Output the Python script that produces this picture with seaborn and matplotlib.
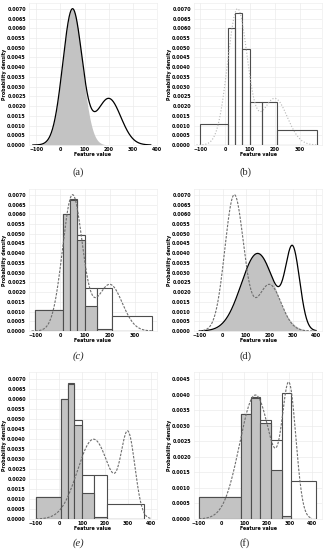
import numpy as np
import pandas as pd
import matplotlib
matplotlib.use('Agg')
import matplotlib.pyplot as plt
from matplotlib.ticker import MultipleLocator, FormatStrFormatter
import seaborn as sns

# Gaussian mixtures (a) and (d)
mix_a_means = [50, 200]
mix_a_sds = [40, 50]
mix_a_weights = [0.7, 0.3]

mix_d_means = [150, 300]
mix_d_sds = [70, 30]
mix_d_weights = [0.7, 0.3]

# histogram used in (b), (c), (e)
bins_b = [-100, 10, 40, 67, 100, 150, 210, 370]
heights_b = [0.0011, 0.0060, 0.0068, 0.00495, 0.0022, 0.0022, 0.00075]
heights_c = [0.0011, 0.0060, 0.00675, 0.0047, 0.0013, 0.00008, 0.0]

# histogram used in (f)
bins_f = [-100, 85, 130, 172, 220, 268, 306, 418]
heights_f_outline = [0.0007, 0.00337, 0.00393, 0.00318, 0.00253, 0.00405, 0.00122]
heights_f_filled = [0.0007, 0.00337, 0.0039, 0.0031, 0.00159, 0.00011, 0.0]

panel_labels = ['(a)', '(b)', '(c)', '(d)', '(e)', '(f)']

FILL = '#c3c3c3'
EDGE = '#4d4d4d'
FS = 3.4

sns.set_theme(style='whitegrid', rc={
    'grid.color': '#ebebeb', 'grid.linewidth': 0.5,
    'axes.edgecolor': '#eeeeee', 'axes.linewidth': 0.5,
    'xtick.major.size': 0, 'ytick.major.size': 0,
    'xtick.major.pad': 1.2, 'ytick.major.pad': 2.2,
})
plt.rcParams['font.family'] = ['DejaVu Sans']


def components(x, means, sds, weights):
    return [w / (s * np.sqrt(2 * np.pi)) * np.exp(-0.5 * ((x - m) / s) ** 2)
            for m, s, w in zip(means, sds, weights)]


def draw_hist(ax, edges, heights, color, fill=True):
    mids = [(lo + hi) / 2 for lo, hi in zip(edges[:-1], edges[1:])]
    df = pd.DataFrame({'x': mids, 'h': heights})
    if fill:
        sns.histplot(data=df, x='x', weights='h', bins=list(edges), stat='count', ax=ax,
                     color=color, edgecolor=EDGE, linewidth=0.8, alpha=1)
    else:
        sns.histplot(data=df, x='x', weights='h', bins=list(edges), stat='count', ax=ax,
                     fill=False, color=EDGE, linewidth=0.8)


def style_axes(ax, xlim, ylim):
    ax.set_xlim(*xlim)
    ax.set_ylim(*ylim)
    ax.xaxis.set_major_locator(MultipleLocator(100))
    ax.yaxis.set_major_locator(MultipleLocator(0.0005))
    ax.yaxis.set_major_formatter(FormatStrFormatter('%.4f'))
    for lab in ax.get_xticklabels() + ax.get_yticklabels():
        lab.set_fontsize(FS)
        lab.set_fontweight('bold')
        lab.set_color('black')
    ax.set_xlabel('Feature value', fontsize=FS, fontweight='bold', labelpad=0.5, color='black')
    ax.set_ylabel('Probability density', fontsize=FS, fontweight='bold', labelpad=0.3, color='black')


fig = plt.figure(figsize=(3.26, 5.5), dpi=100)
W, H = 326, 550
lefts = [29, 194]
widths = [128, 128]
rows = [(3, 145), (189, 331), (372, 519)]
axes = []
for r, (top, bottom) in enumerate(rows):
    for c in range(2):
        ax = fig.add_axes([lefts[c] / W, 1 - bottom / H, widths[c] / W, (bottom - top) / H])
        axes.append(ax)

xs_a = np.linspace(-115, 375, 600)
xs_d = np.linspace(-100, 400, 600)
a1, a2 = components(xs_a, mix_a_means, mix_a_sds, mix_a_weights)
a_total = a1 + a2
ad1, ad2 = components(xs_d, mix_a_means, mix_a_sds, mix_a_weights)
a_total_d = ad1 + ad2
d1, d2 = components(xs_d, mix_d_means, mix_d_sds, mix_d_weights)
d_total = d1 + d2

dash = (0, (2.2, 1.2))

# (a)
ax = axes[0]
ax.fill_between(xs_a, 0, a1, color=FILL, lw=0)
sns.lineplot(x=xs_a, y=a_total, ax=ax, color='black', linewidth=0.9)
style_axes(ax, (-130, 400), (0, 0.0073))

# (b)
ax = axes[1]
draw_hist(ax, bins_b, heights_b, 'white', fill=False)
sns.lineplot(x=xs_a, y=a_total, ax=ax, color='#b5b5b5', linewidth=0.8, linestyle=':')
style_axes(ax, (-125, 390), (0, 0.0073))

# (c)
ax = axes[2]
draw_hist(ax, bins_b, heights_b, 'white')
draw_hist(ax, bins_b, heights_c, FILL)
sns.lineplot(x=xs_a, y=a_total, ax=ax, color='#6e6e6e', linewidth=0.8, linestyle=dash)
style_axes(ax, (-125, 390), (0, 0.0073))

# (d)
ax = axes[3]
ax.fill_between(xs_d, 0, d1, color=FILL, lw=0)
sns.lineplot(x=xs_d, y=d_total, ax=ax, color='black', linewidth=0.9)
sns.lineplot(x=xs_d, y=a_total_d, ax=ax, color='#6e6e6e', linewidth=0.8, linestyle=dash)
style_axes(ax, (-122, 425), (0, 0.0073))

# (e)
ax = axes[4]
draw_hist(ax, bins_b, heights_b, 'white')
draw_hist(ax, bins_b, heights_c, FILL)
sns.lineplot(x=xs_d, y=d_total, ax=ax, color='#6e6e6e', linewidth=0.8, linestyle=dash)
style_axes(ax, (-130, 425), (0, 0.00735))

# (f)
ax = axes[5]
draw_hist(ax, bins_f, heights_f_outline, 'white')
draw_hist(ax, bins_f, heights_f_filled, FILL)
sns.lineplot(x=xs_d, y=d_total, ax=ax, color='#6e6e6e', linewidth=0.8, linestyle=dash)
style_axes(ax, (-122, 445), (0, 0.00473))

cap_x = [78, 245]
cap_y = [172, 356, 543]
for i, lab in enumerate(panel_labels):
    style = 'italic' if lab in ('(c)', '(e)') else 'normal'
    fig.text(cap_x[i % 2] / W, 1 - cap_y[i // 2] / H, lab, ha='center', va='center',
             family=['Liberation Serif', 'DejaVu Serif'], fontsize=7.5, style=style)

fig.savefig('out.png', dpi=100)
